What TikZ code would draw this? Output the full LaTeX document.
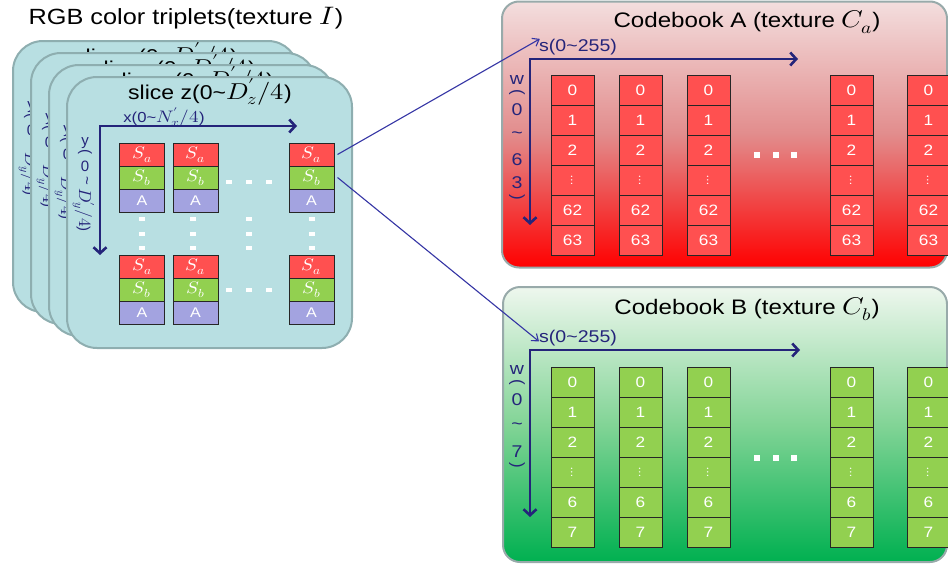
\documentclass[tikz,border=0pt]{standalone}
\usepackage{graphicx}
\usepackage{fontspec}
\usepackage{unicode-math}
\setmainfont{Liberation Sans}
\setmathfont{Latin Modern Math}[Scale=1.15]
\usetikzlibrary{arrows.meta}

\definecolor{cardfill}{HTML}{B8DFE2}
\definecolor{cardedge}{HTML}{8EAEB0}
\definecolor{cellred}{HTML}{FF5050}
\definecolor{cellgreen}{HTML}{92D050}
\definecolor{cellpurple}{HTML}{A3A3E0}
\definecolor{navy}{HTML}{24247A}
\definecolor{linkblue}{HTML}{3434A4}
\definecolor{panedge}{HTML}{98AAAA}

\newcommand{\fs}[1]{\fontsize{#1}{#1}\selectfont}
% slightly widened lettering
\newcommand{\st}[1]{\scalebox{1.15}[1]{#1}}
\newcommand{\vt}[1]{\rotatebox[origin=c]{-90}{#1}}

\begin{document}
\begin{tikzpicture}[x=1pt,y=-1pt,
  card/.style={draw=cardedge, line width=2pt, fill=cardfill, rounded corners=30pt,
    minimum width=285pt, minimum height=271pt, inner sep=0pt},
  lcell/.style={draw=black!85, line width=1pt, minimum width=45pt, minimum height=23pt,
    inner sep=0pt, text=white},
  sacell/.style={lcell, fill=cellred, font=\fs{14.5}},
  sbcell/.style={lcell, fill=cellgreen, font=\fs{14.5}},
  acell/.style={lcell, fill=cellpurple, font=\fs{14}},
  cbcell/.style={draw=black!85, line width=1pt, minimum width=43pt, minimum height=30pt,
    inner sep=0pt, text=white, font=\fs{15}},
  redcell/.style={cbcell, fill=cellred},
  greencell/.style={cbcell, fill=cellgreen},
  axisline/.style={draw=navy, line width=2.6pt,
    {Straight Barb[length=6pt,width=13pt]}-{Straight Barb[length=6pt,width=13pt]}},
  link/.style={draw=linkblue, line width=1.1pt, -{Straight Barb[length=6pt,width=9pt]}},
  lbl/.style={text=navy, inner sep=0pt},
  panel/.style={draw=panedge, line width=2pt, rounded corners=17pt, inner sep=0pt},
]
\useasboundingbox (0,0) rectangle (948,565);
\clip (0,0) rectangle (948,565);

% ---------- codebook panels ----------
\node[panel, minimum width=445pt, minimum height=266pt,
      top color={rgb,255:red,243;green,222;blue,222}, bottom color={rgb,255:red,255;green,0;blue,0},
      middle color={rgb,255:red,226;green,140;blue,140}] (panA) at (724.5,134.5) {};
\node[panel, minimum width=444pt, minimum height=275pt,
      top color={rgb,255:red,238;green,247;blue,238}, bottom color={rgb,255:red,0;green,176;blue,80},
      middle color={rgb,255:red,130;green,212;blue,150}] (panB) at (725,424.5) {};

\node[font=\fs{21}] (titA) at (747,22) {\st{Codebook A (texture $C_a$)}};
\node[font=\fs{21}] (titB) at (747,309) {\st{Codebook B (texture $C_b$)}};

% ---------- slice cards (back to front) ----------
\node[font=\fs{22}] (maintitle) at (186,18) {\st{RGB color triplets(texture $I$)}};
\foreach \k/\dx/\dy in {0/-54/-36,1/-36/-24,2/-18/-12,3/0/0}{
  \begin{scope}[shift={(\dx,\dy)}]
    \node[card] (card\k) at (209.5,212.5) {};
    \node[font=\fs{20}] (slice\k) at (210,92) {\st{slice z(0\textasciitilde$D'_z/4$)}};
    \node[lbl, font=\fs{15}] (ya\k) at (85,143) {y};
    \node[lbl, font=\fs{15}] (yb\k) at (85,153) {\vt{(}};
    \node[lbl, font=\fs{15}] (yc\k) at (85,166) {0};
    \node[lbl, font=\fs{15}] (yd\k) at (85,181) {\vt{\textasciitilde}};
    \node[lbl, font=\fs{15}] (ye\k) at (84,210) {\vt{$D'_y/4$)}};
  \end{scope}
}

% axes of the front slice
\coordinate (xo) at (100,126);
\coordinate (xend) at (297,126);
\coordinate (yend) at (100,255);
\draw[axisline] (xend) -- (xo) -- (yend);
\node[lbl, font=\fs{14.5}] (xlab) at (164,117) {\st{x(0\textasciitilde$N'_x/4$)}};

% texel blocks of the front slice
\foreach \c/\cx in {1/142,2/195.5,3/311.5}{
  \foreach \r/\ry in {1/154.5,2/266.5}{
    \node[sacell] (sa\r\c) at (\cx,\ry) {\st{$S_a$}};
    \node[sbcell] (sb\r\c) at (\cx,{\ry+23}) {\st{$S_b$}};
    \node[acell]  (aa\r\c) at (\cx,{\ry+46}) {\st{A}};
  }
}
% ellipsis dots
\foreach \y in {182,290}{
  \foreach \x in {229,249,269}{
    \fill[white] ({\x-3},{\y-2.3}) rectangle ({\x+3},{\y+2.3});
  }
}
\foreach \x in {142,193,249,312}{
  \foreach \y in {219,234,248}{
    \fill[white] ({\x-3},{\y-2.3}) rectangle ({\x+3},{\y+2.3});
  }
}

% ---------- codebook A contents ----------
\coordinate (ao) at (530,59);
\coordinate (aex) at (798,59);
\coordinate (aey) at (530,225);
\draw[axisline] (aex) -- (ao) -- (aey);
\node[lbl, font=\fs{17}, anchor=west] (sA) at (539,47) {\st{s(0\textasciitilde255)}};
\node[lbl, font=\fs{17}] (wa1) at (517,80) {\st{w}};
\node[lbl, font=\fs{17}] (wa2) at (517,93) {\vt{(}};
\node[lbl, font=\fs{17}] (wa3) at (517,110) {\st{0}};
\node[lbl, font=\fs{17}] (wa4) at (517,135) {\st{\textasciitilde}};
\node[lbl, font=\fs{17}] (wa5) at (517,160) {\st{6}};
\node[lbl, font=\fs{17}] (wa6) at (517,183) {\st{3}};
\node[lbl, font=\fs{17}] (wa7) at (517,198) {\vt{)}};
\foreach \c/\cx in {1/572.5,2/640.5,3/708.5,4/851.5,5/928.5}{
  \foreach \r/\lb in {0/0,1/1,2/2,3/{\fs{11}$\vdots$},4/62,5/63}{
    \node[redcell] (ca\c\r) at (\cx,{90+30*\r}) {\st{\lb}};
  }
}
\foreach \x in {757,776,794}{
  \fill[white] ({\x-3},{155-3}) rectangle ({\x+3},{155+3});
}

% ---------- codebook B contents ----------
\coordinate (bo) at (530,350);
\coordinate (bex) at (800,350);
\coordinate (bey) at (530,517);
\draw[axisline] (bex) -- (bo) -- (bey);
\node[lbl, font=\fs{17}, anchor=west] (sB) at (539,338) {\st{s(0\textasciitilde255)}};
\node[lbl, font=\fs{17}] (wb1) at (517,370) {\st{w}};
\node[lbl, font=\fs{17}] (wb2) at (517,383) {\vt{(}};
\node[lbl, font=\fs{17}] (wb3) at (517,400) {\st{0}};
\node[lbl, font=\fs{17}] (wb4) at (517,426) {\st{\textasciitilde}};
\node[lbl, font=\fs{17}] (wb5) at (517,452) {\st{7}};
\node[lbl, font=\fs{17}] (wb6) at (517,466) {\vt{)}};
\foreach \c/\cx in {1/572.5,2/640.5,3/708.5,4/851.5,5/928.5}{
  \foreach \r/\lb in {0/0,1/1,2/2,3/{\fs{11}$\vdots$},4/6,5/7}{
    \node[greencell] (cb\c\r) at (\cx,{382+30*\r}) {\st{\lb}};
  }
}
\foreach \x in {757,776,794}{
  \fill[white] ({\x-3},{458-3}) rectangle ({\x+3},{458+3});
}

% ---------- links from the texel to the codebooks ----------
\draw[link] ([xshift=3pt]sa13.east) -- (sA.168);
\draw[link] ([xshift=3pt]sb13.east) -- (sB.185);
\end{tikzpicture}
\end{document}
